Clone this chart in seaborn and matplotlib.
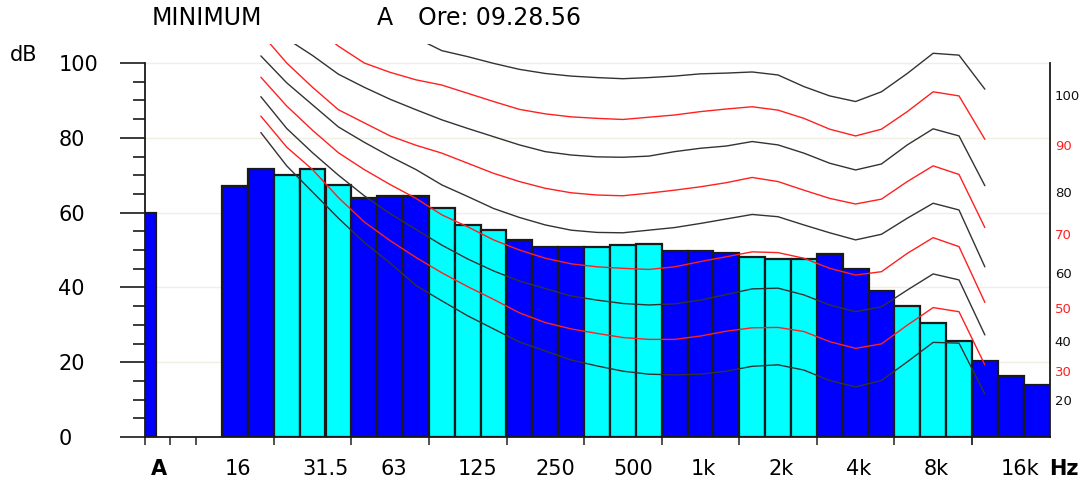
import numpy as np
import pandas as pd
import matplotlib
matplotlib.use("Agg")
import matplotlib.pyplot as plt
import seaborn as sns

# ---- data -----------------------------------------------------------------
# third-octave bands, nominal centre frequencies
bands = ["16", "20", "25", "31.5", "40", "50", "63", "80", "100", "125",
         "160", "200", "250", "315", "400", "500", "630", "800", "1k",
         "1.25k", "1.6k", "2k", "2.5k", "3.15k", "4k", "5k", "6.3k", "8k",
         "10k", "12.5k", "16k", "20k"]
band_levels = [67.1, 71.7, 70.1, 71.7, 67.3, 63.8, 64.4, 64.4, 61.3, 56.6,
               55.3, 52.7, 50.9, 50.9, 50.9, 51.3, 51.7, 49.8, 49.8,
               49.3, 48.2, 47.5, 47.5, 48.8, 44.9, 39.1, 35.0, 30.6,
               25.7, 20.4, 16.4, 14.0]
overall_label = "A"
overall_level = 59.8

# slots along the x axis: overall value, a spacer, the (empty) 12.5 Hz band
slot_order = [overall_label, " ", "12.5"] + bands
octave_labels = ["16", "31.5", "63", "125", "250", "500", "1k", "2k", "4k",
                 "8k", "16k"]

# equal-loudness contours, 20 Hz .. 12.5 kHz (NaN = above the plotted range)
nan = np.nan
contour_bands = bands[1:30]
phon_levels = [20, 30, 40, 50, 60, 70, 80, 90, 100]
phon20 = [81.4, 72.5, 65.5, 58.5, 52.0, 46.5, 40.5, 36.4, 32.4, 28.9, 25.4,
          23.0, 20.6, 19.0, 17.6, 16.8, 16.6, 16.8, 17.6, 18.9, 19.3, 17.9,
          15.1, 13.4, 15.1, 20.1, 25.3, 25.1, 11.5]
phon30 = [85.8, 77.5, 71.5, 64.0, 57.5, 52.5, 48.0, 43.9, 40.2, 36.8, 33.2,
          30.6, 28.9, 27.7, 26.6, 26.1, 26.1, 27.0, 28.3, 29.2, 29.3, 28.2,
          25.5, 23.7, 24.9, 29.9, 34.6, 33.5, 19.3]
phon40 = [91.0, 82.5, 76.0, 70.0, 64.5, 59.7, 55.5, 51.3, 47.6, 44.4, 41.7,
          39.7, 37.7, 36.6, 35.7, 35.3, 35.6, 36.6, 38.1, 39.6, 39.8, 38.0,
          35.3, 33.5, 34.8, 39.3, 43.6, 42.0, 27.3]
phon50 = [96.2, 88.5, 82.0, 76.0, 71.5, 67.5, 63.8, 59.4, 56.2, 52.7, 50.0,
          47.8, 46.3, 45.5, 45.1, 44.8, 45.5, 46.9, 48.2, 49.5, 49.3, 47.8,
          45.1, 43.3, 44.2, 49.1, 53.3, 50.9, 36.0]
phon60 = [101.9, 94.7, 88.8, 82.9, 78.8, 75.0, 71.5, 67.4, 64.3, 61.1, 58.7,
          56.7, 55.3, 54.7, 54.6, 55.3, 56.0, 57.1, 58.3, 59.5, 58.9, 56.7,
          54.6, 52.7, 54.2, 58.5, 62.5, 60.7, 45.5]
phon70 = [108.0, 100.0, 93.5, 87.5, 84.0, 80.5, 78.0, 75.9, 73.2, 70.5, 68.3,
          66.5, 65.3, 64.7, 64.5, 65.2, 66.0, 66.9, 68.0, 69.4, 68.3, 66.0,
          63.8, 62.3, 63.6, 68.3, 72.5, 70.2, 56.0]
phon80 = [nan, 106.5, 102.0, 97.0, 93.5, 90.3, 87.5, 84.8, 82.5, 80.3, 78.1,
          76.3, 75.4, 74.9, 74.8, 75.1, 76.3, 77.2, 77.8, 79.0, 78.1, 75.9,
          73.2, 71.4, 73.0, 78.1, 82.4, 80.5, 67.2]
phon90 = [nan, nan, 110.0, 104.5, 100.0, 97.5, 95.5, 94.1, 91.9, 89.7, 87.6,
          86.4, 85.6, 85.2, 84.9, 85.5, 86.1, 87.0, 87.7, 88.3, 87.4, 85.2,
          82.3, 80.5, 82.3, 87.0, 92.3, 91.2, 79.6]
phon100 = [nan, nan, nan, nan, nan, nan, 106.7, 103.3, 101.7, 99.9, 98.3,
           97.2, 96.5, 96.1, 95.8, 96.1, 96.5, 97.1, 97.3, 97.6, 96.8, 93.7,
           91.2, 89.7, 92.3, 97.2, 102.6, 102.1, 93.0]
contours = [phon20, phon30, phon40, phon50, phon60, phon70, phon80, phon90,
            phon100]

# ---- style ----------------------------------------------------------------
BLUE, CYAN = "#0000ff", "#00ffff"
CURVE_DARK, CURVE_RED = "#333333", "#ff2020"
INK = "#000000"
sns.set_theme(style="white")
plt.rcParams["font.family"] = ["DejaVu Sans"]
plt.rcParams.update({"text.color": INK, "xtick.color": INK,
                     "ytick.color": INK, "axes.labelcolor": INK})

fig = plt.figure(figsize=(10.91, 4.78), dpi=100)
ax = fig.add_axes([144.5 / 1091, 41 / 478, 905 / 1091, 392.7 / 478])

# bars: octave groups of three bands alternate blue / cyan
pos = {name: i for i, name in enumerate(slot_order)}
tone = [("blue" if ((pos[b] - 2) // 3) % 2 == 0 else "cyan") for b in bands]
df = pd.DataFrame({"band": [overall_label] + bands,
                   "level": [overall_level] + band_levels,
                   "tone": ["blue"] + tone})
sns.barplot(data=df, x="band", y="level", hue="tone", order=slot_order,
            hue_order=["blue", "cyan"], palette={"blue": BLUE, "cyan": CYAN},
            dodge=False, width=1.0, edgecolor="#1a1a1a", linewidth=1.6,
            saturation=1, legend=False, zorder=2, ax=ax)

# the overall value bar is drawn half a slot wide, flush left
for p in ax.patches:
    if abs(p.get_x() + p.get_width() / 2 - pos[overall_label]) < 0.01:
        p.set_width(p.get_width() * 0.46)

# equal-loudness contours
cx = np.array([pos[b] for b in contour_bands], dtype=float)
for phon, vals in zip(phon_levels, contours):
    v = np.array(vals, dtype=float)
    ok = ~np.isnan(v)
    color = CURVE_DARK if phon % 20 == 0 else CURVE_RED
    sns.lineplot(x=cx[ok], y=v[ok], color=color, linewidth=1.0, sort=False,
                 estimator=None, zorder=3, ax=ax)

# ---- axes -----------------------------------------------------------------
ax.set_xlim(-0.5, len(slot_order) - 0.5)
ax.set_ylim(0, 105)
ax.set_xlabel("")
ax.set_ylabel("")

for y in range(20, 101, 20):
    ax.axhline(y, color="#f1eee2", linewidth=1.0, zorder=0)

ax.spines["top"].set_visible(False)
for side in ("left", "right"):
    ax.spines[side].set_bounds(0, 100)
for side in ("left", "right", "bottom"):
    ax.spines[side].set_color("#1a1a1a")
    ax.spines[side].set_linewidth(1.3)

# y axis: major ticks every 20 dB, minor every 5 dB, labels left aligned
ax.set_yticks(range(0, 101, 20))
ax.set_yticks(range(0, 101, 5), minor=True)
ax.tick_params(axis="y", which="major", left=True, length=18, width=1.2,
               color="#1a1a1a", pad=44, labelsize=15, labelcolor=INK)
ax.tick_params(axis="y", which="minor", left=True, length=9, width=1.2,
               color="#1a1a1a")
for lbl in ax.get_yticklabels():
    lbl.set_horizontalalignment("left")

# x axis: ticks on octave boundaries, labels on nominal bands
boundaries = [-0.5, 0.5, 1.5] + [pos[b] - 0.5 - 1 for b in octave_labels[1:]] \
    + [pos["12.5k"] - 0.5]
ax.set_xticks(boundaries)
ax.set_xticklabels([""] * len(boundaries))
ax.tick_params(axis="x", which="major", bottom=True, length=6, width=1.2,
               color="#333333")
label_pos = [pos[overall_label] - 0.25] + [pos[b] - 0.38 for b in octave_labels] \
    + [len(slot_order) - 0.5]
label_txt = [overall_label] + octave_labels + ["Hz"]
ax.set_xticks(label_pos, minor=True)
ax.set_xticklabels(label_txt, minor=True)
ax.tick_params(axis="x", which="minor", bottom=True, length=0, pad=16,
               labelsize=15, labelcolor=INK)
for lbl in ax.get_xticklabels(minor=True):
    lbl.set_horizontalalignment("left")
    if lbl.get_text() in (overall_label, "Hz"):
        lbl.set_fontweight("bold")

# contour labels at the right-hand end of each curve
for phon, vals in zip(phon_levels, contours):
    color = "#111111" if phon % 20 == 0 else CURVE_RED
    ax.text(len(slot_order) - 0.5 + 0.2, vals[-1] - 2.0, str(phon),
            color=color, fontsize=9.5, ha="left", va="center", clip_on=False)

# header texts
fig.text(10 / 1091, 1 - 55 / 478, "dB", fontsize=15, ha="left", va="center")
fig.text(152 / 1091, 1 - 18 / 478, "MINIMUM", fontsize=17, ha="left",
         va="center")
fig.text(377 / 1091, 1 - 18 / 478, "A", fontsize=17, ha="left", va="center")
fig.text(418 / 1091, 1 - 18 / 478, "Ore: 09.28.56", fontsize=17, ha="left",
         va="center")

fig.savefig("out.png", dpi=100, facecolor="white")
